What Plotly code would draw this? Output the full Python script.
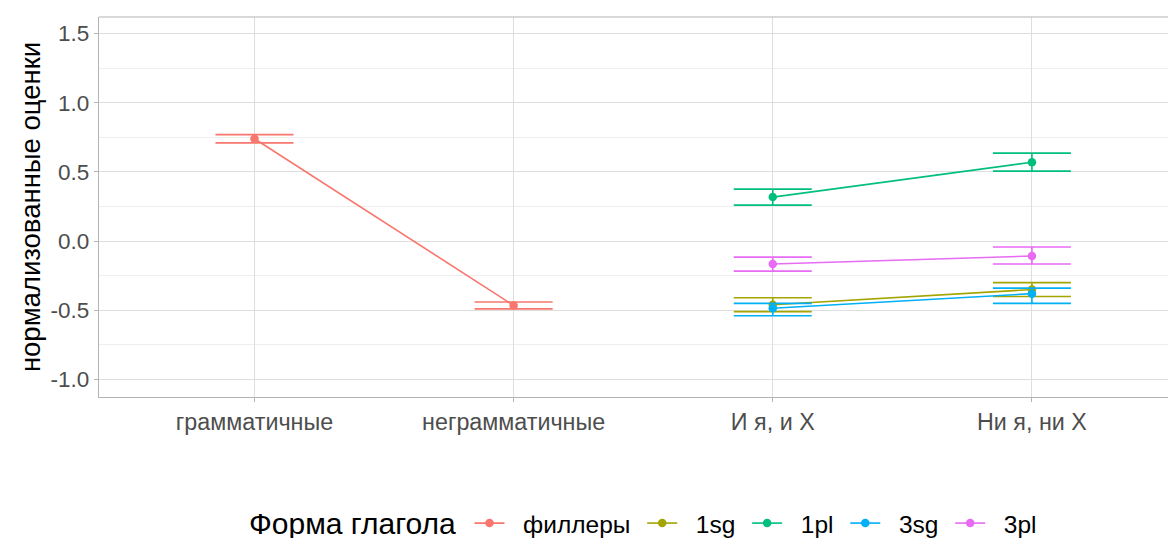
import plotly.graph_objects as go

categories = ["грамматичные", "неграмматичные", "И я, и Х", "Ни я, ни Х"]

series_names = ["филлеры", "1sg", "1pl", "3sg", "3pl"]
series_colors = ["#F8766D", "#A3A500", "#00BF7D", "#00B0F6", "#E76BF3"]
legend_title = "Форма глагола"

fill_x = ["грамматичные", "неграмматичные"]
fill_y = [0.74, -0.465]
fill_hi = [0.77, -0.44]
fill_lo = [0.71, -0.49]

exp_x = ["И я, и Х", "Ни я, ни Х"]
sg1_y = [-0.46, -0.35]
sg1_hi = [-0.41, -0.30]
sg1_lo = [-0.51, -0.40]

pl1_y = [0.318, 0.57]
pl1_hi = [0.376, 0.636]
pl1_lo = [0.26, 0.506]

sg3_y = [-0.485, -0.38]
sg3_hi = [-0.45, -0.34]
sg3_lo = [-0.54, -0.45]

pl3_y = [-0.166, -0.108]
pl3_hi = [-0.116, -0.043]
pl3_lo = [-0.217, -0.166]

y_ticks = [-1.0, -0.5, 0.0, 0.5, 1.0, 1.5]

series = [
    (fill_x, fill_y, fill_hi, fill_lo),
    (exp_x, sg1_y, sg1_hi, sg1_lo),
    (exp_x, pl1_y, pl1_hi, pl1_lo),
    (exp_x, sg3_y, sg3_hi, sg3_lo),
    (exp_x, pl3_y, pl3_hi, pl3_lo),
]

FONT = "Liberation Sans, Arial, sans-serif"
NB = "\u00a0"

fig = go.Figure()
for name, color, (xs, ys, hi, lo) in zip(series_names, series_colors, series):
    fig.add_trace(go.Scatter(
        x=xs, y=ys, name=NB * 2 + name + NB, mode="lines+markers",
        line=dict(color=color, width=1.6),
        marker=dict(color=color, size=8.5),
        error_y=dict(type="data", symmetric=False,
                     array=[h - y for h, y in zip(hi, ys)],
                     arrayminus=[y - l for y, l in zip(ys, lo)],
                     color=color, thickness=1.6, width=39),
    ))

fig.update_layout(
    width=1168, height=530,
    margin=dict(l=91, r=0, t=9, b=141, autoexpand=False),
    paper_bgcolor="white", plot_bgcolor="white",
    font=dict(family=FONT, color="#4D4D4D"),
    showlegend=True,
    legend=dict(
        orientation="h", x=0.344, xanchor="left", y=-0.332, yanchor="middle",
        font=dict(size=24.5, color="black", family=FONT),
        itemwidth=30,
    ),
    xaxis=dict(
        type="category", categoryorder="array", categoryarray=categories,
        range=[-0.6, 3.556], automargin=False,
        showgrid=True, gridcolor="#DEDEDE", gridwidth=1,
        showline=True, linecolor="#B3B3B3", linewidth=1.2,
        ticks="outside", ticklen=4, tickcolor="#B3B3B3",
        tickfont=dict(size=23.3, color="#4D4D4D"),
        zeroline=False,
    ),
    yaxis=dict(
        range=[-1.127, 1.62], automargin=False,
        tickvals=y_ticks, ticktext=["-1.0", "-0.5", "0.0", "0.5", "1.0", "1.5"],
        showgrid=True, gridcolor="#DEDEDE", gridwidth=1.1,
        minor=dict(dtick=0.25, tick0=0, showgrid=True, gridcolor="#EEEEEE", gridwidth=0.6),
        showline=True, linecolor="#B3B3B3", linewidth=1.2,
        ticks="outside", ticklen=4, tickcolor="#B3B3B3",
        tickfont=dict(size=22.5, color="#4D4D4D"),
        title=dict(text="нормализованные оценки", font=dict(size=27.5, color="black"), standoff=1),
        zeroline=False,
    ),
)

fig.add_annotation(text=legend_title, xref="paper", yref="paper",
                   x=0.3334, y=-0.3316, xanchor="right", yanchor="middle",
                   showarrow=False, font=dict(size=30, color="black", family=FONT))

fig.add_shape(type="line", xref="paper", yref="paper", x0=0, x1=1, y0=1, y1=1,
              line=dict(color="#B3B3B3", width=1.2))

fig.write_html("out.html")
